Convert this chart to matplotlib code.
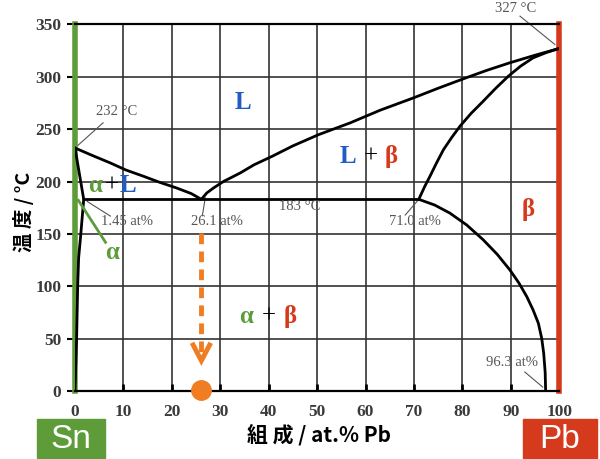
import matplotlib.pyplot as plt
from matplotlib.patches import Rectangle

# 状態図の境界線 (組成 at.% Pb, 温度 °C)
liq_left_x = [0, 3.5, 7.3, 10.5, 14.2, 17.5, 21, 24, 26.1]
liq_left_t = [232, 225, 217.7, 211, 204.9, 199.2, 193.8, 188.5, 183]

liq_right_x = [26.1, 27.2, 28.6, 30.7, 34.1, 37, 40.7, 45, 50.3, 56.8, 63, 69.9,
               75, 80.2, 85, 89.8, 95, 100]
liq_right_t = [183, 189, 193.8, 200.1, 208.1, 216, 224, 234, 244.7, 255.9, 268, 279.8,
               289, 298, 306, 313.3, 320.5, 327]

sol_beta_x = [71.0, 72.2, 73.3, 74.7, 76.1, 77.8, 79.5, 81.8, 84.3, 86.9, 89.5,
              92.0, 94.6, 97.3, 100]
sol_beta_t = [183, 195, 204.9, 218, 230.4, 242, 252.7, 265, 276.6, 289, 300.5,
              310, 318, 323, 327]

solv_beta_x = [71.0, 74.3, 77.4, 80.9, 84.3, 87.2, 89.8, 91.7, 93.3, 94.6, 95.7,
               96.4, 96.8, 97.1, 97.2]
solv_beta_t = [183, 177.5, 169.9, 158.5, 144.4, 130.5, 115.7, 103, 90.2, 77.5, 64.7,
               50, 36, 18, 0]

sol_alpha_x = [0, 1.8]
sol_alpha_t = [232, 183]

solv_alpha_x = [1.8, 1.2, 0.75, 0.55, 0.33, 0]
solv_alpha_t = [183, 150, 127, 100, 50, 0]

eut_x = [1.8, 71.0]
eut_t = [183, 183]

xticks = list(range(0, 101, 10))
yticks = list(range(0, 351, 50))

green = '#5e9c3a'
red = '#d63a1c'
blue = '#1f5cc4'
orange = '#f07d22'
gray = '#555555'

fig = plt.figure(figsize=(6, 4.59), dpi=100)
ax = fig.add_axes([0.125, 0.148, 0.807, 0.799])

ax.set_xlim(0, 100)
ax.set_ylim(0, 350)
ax.set_xticks(xticks)
ax.set_yticks(yticks)
ax.grid(True, color='#333333', lw=1.2)
ax.set_axisbelow(True)

for s in ['top', 'bottom']:
    ax.spines[s].set_color('black')
    ax.spines[s].set_linewidth(1.6)
ax.spines['left'].set_color(green)
ax.spines['left'].set_linewidth(4)
ax.spines['right'].set_color(red)
ax.spines['right'].set_linewidth(4)

ax.tick_params(axis='x', direction='in', length=5, width=2, pad=9)
ax.tick_params(axis='y', direction='out', length=6, width=1.5, pad=4)
for lab in ax.get_xticklabels() + ax.get_yticklabels():
    lab.set_fontfamily('Liberation Serif')
    lab.set_fontsize(12.5)
    lab.set_fontweight('bold')
    lab.set_color('#3a3a3a')

# 境界線
for xs, ts in [(liq_left_x, liq_left_t), (liq_right_x, liq_right_t),
               (sol_beta_x, sol_beta_t), (solv_beta_x, solv_beta_t),
               (sol_alpha_x, sol_alpha_t), (solv_alpha_x, solv_alpha_t),
               (eut_x, eut_t)]:
    ax.plot(xs, ts, color='black', lw=2, solid_joinstyle='round',
            solid_capstyle='round', zorder=3)

# 注記
ann = dict(fontfamily='Liberation Serif', fontsize=10.5, color=gray,
           ha='center', va='center')
ax.text(8.5, 266.7, '232 °C', **ann)
ax.plot([0, 5.8], [232, 256], color=gray, lw=0.8)
ax.text(10.8, 161.6, '1.45 at%', **ann)
ax.plot([2.5, 7.3], [181, 167], color=gray, lw=0.8)
ax.text(29.4, 161.6, '26.1 at%', **ann)
ax.plot([26.9, 26.3], [184.5, 167.3], color=gray, lw=0.8)
ax.text(46.5, 176, '183 °C', **ann)
ax.text(70.2, 161.6, '71.0 at%', **ann)
ax.plot([71.3, 68.2], [184.5, 168], color=gray, lw=0.8)
ax.text(90.2, 26.8, '96.3 at%', **ann)
ax.plot([92.9, 96.6], [18.2, 3.8], color=gray, lw=0.8)
ax.text(91, 365, '327 °C', clip_on=False, **ann)
ax.plot([91.9, 99.1], [357.8, 330.8], color=gray, lw=0.8, clip_on=False)

# 相の名前
ph = dict(fontfamily='Liberation Serif', fontsize=18, fontweight='bold',
          ha='center', va='center', zorder=5)
plus = dict(fontfamily='Liberation Serif', fontsize=18,
            ha='center', va='center', zorder=5, color='black')
ax.text(34.7, 275, 'L', color=blue, **ph)
ax.text(56.4, 223.7, 'L', color=blue, **ph)
ax.text(61.0, 223.7, '+', **plus)
ax.text(65.3, 223.7, 'β', color=red, **ph)
ax.text(93.6, 173, 'β', color=red, **ph)
ax.text(4.2, 196, 'α', color=green, **ph)
ax.text(7.7, 196, '+', **plus)
ax.text(11.0, 196, 'L', color=blue, **ph)
ax.text(7.7, 132, 'α', color=green, **ph)
ax.plot([0.7, 6.3], [182, 142], color=green, lw=2, zorder=4)
ax.text(35.3, 70.7, 'α', color=green, **ph)
ax.text(40.1, 70.7, '+', **plus)
ax.text(44.4, 70.7, 'β', color=red, **ph)

# 冷却の矢印
ax.plot([26.1, 26.1], [151, 32], color=orange, lw=3.5, ls=(0, (2.2, 1.5)), zorder=6)
ax.plot([24.4, 26.1, 27.8], [44, 29, 44], color=orange, lw=3.5, zorder=6,
        solid_joinstyle='miter')
ax.plot([26.1], [1], 'o', color=orange, ms=14, clip_on=False, zorder=7)

# 軸ラベル
fig.text(23 / 600, 1 - 212 / 459, '温 度 / °C', rotation=90, ha='center', va='center',
         fontsize=14, fontweight='bold', family=['Noto Sans CJK JP', 'DejaVu Sans'])
fig.text(319 / 600, 1 - 435 / 459, '組 成 / at.% Pb', ha='center', va='center',
         fontsize=15, fontweight='bold', family=['Noto Sans CJK JP', 'DejaVu Sans'])

# Sn / Pb の札
fig.patches.append(Rectangle((37 / 600, 1 / 459), 68 / 600, 39 / 459,
                             transform=fig.transFigure, color=green))
fig.text(71 / 600, 1 - 439 / 459, 'Sn', color='white', ha='center', va='center',
         fontsize=24, family='Liberation Sans')
fig.patches.append(Rectangle((523 / 600, 1 / 459), 74 / 600, 39 / 459,
                             transform=fig.transFigure, color=red))
fig.text(560 / 600, 1 - 439 / 459, 'Pb', color='white', ha='center', va='center',
         fontsize=24, family='Liberation Sans')

fig.savefig('out.png', dpi=100)
